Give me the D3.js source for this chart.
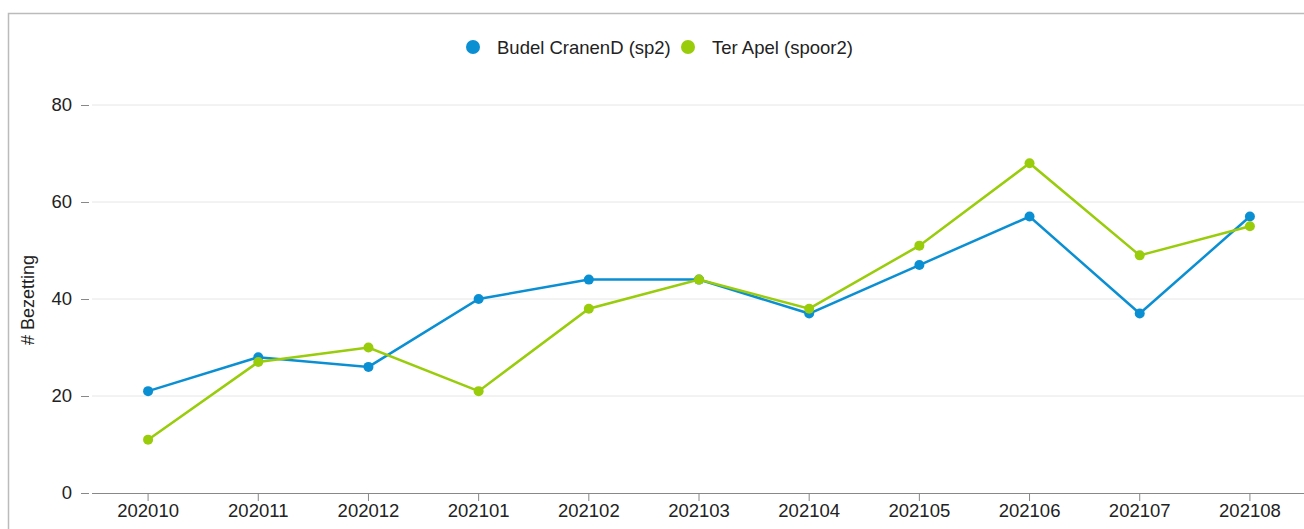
<!DOCTYPE html>
<html>
<head>
<meta charset="utf-8">
<script src="https://cdn.jsdelivr.net/npm/d3@7"></script>
<style>
  body { margin: 0; background: #fff; }
  svg { font-family: "Liberation Sans", Arial, sans-serif; }
</style>
</head>
<body>
<div id="chart"></div>
<script>
// Data
const months = ["202010", "202011", "202012", "202101", "202102", "202103", "202104", "202105", "202106", "202107", "202108"];
const budel = [21, 28, 26, 40, 44, 44, 37, 47, 57, 37, 57];
const terApel = [11, 27, 30, 21, 38, 44, 38, 51, 68, 49, 55];
const seriesNames = ["Budel CranenD (sp2)", "Ter Apel (spoor2)"];
const yTicks = [0, 20, 40, 60, 80];

const width = 1304, height = 529;
const colors = ["#0b8fd3", "#99cc0a"];
const fontSize = 18.5;

const svg = d3.select("#chart").append("svg")
  .attr("width", width)
  .attr("height", height);

// frame
svg.append("path")
  .attr("d", "M8.5," + height + "V13.5H" + width)
  .attr("fill", "none")
  .attr("stroke", "#bbbbbb")
  .attr("stroke-width", 1.5);

const x = d3.scaleBand().domain(months).range([93, 1305]);
const y = d3.scaleLinear().domain([0, 80]).range([493, 105]);

// grid
svg.append("g").selectAll("line")
  .data(yTicks.filter(d => d > 0))
  .join("line")
  .attr("x1", 92).attr("x2", width)
  .attr("y1", d => y(d)).attr("y2", d => y(d))
  .attr("stroke", "#e6e6e6");

// y axis
const yAxis = svg.append("g")
  .attr("transform", "translate(89,0)")
  .call(d3.axisLeft(y).tickValues(yTicks).tickSize(8).tickPadding(9));
yAxis.select(".domain").remove();
yAxis.selectAll(".tick line").attr("stroke", "#888");
yAxis.selectAll("text").attr("font-size", fontSize).attr("fill", "#222")
  .attr("font-family", "Liberation Sans, Arial, sans-serif");

// x axis
const xAxis = svg.append("g")
  .attr("transform", "translate(0,493)")
  .call(d3.axisBottom(x).tickSize(8).tickPadding(3).tickSizeOuter(0));
xAxis.select(".domain").attr("stroke", "#888").attr("d", "M92,0.5H" + width);
xAxis.selectAll(".tick line").attr("stroke", "#888");
xAxis.selectAll("text").attr("font-size", fontSize).attr("fill", "#222")
  .attr("font-family", "Liberation Sans, Arial, sans-serif");

// y title
svg.append("text")
  .attr("transform", "translate(34,300) rotate(-90)")
  .attr("text-anchor", "middle")
  .attr("font-size", 18)
  .attr("fill", "#222")
  .text("# Bezetting");

// series
const line = d3.line()
  .x((d, i) => x(months[i]) + x.bandwidth() / 2)
  .y(d => y(d));

[budel, terApel].forEach((vals, s) => {
  svg.append("path")
    .datum(vals)
    .attr("d", line)
    .attr("fill", "none")
    .attr("stroke", colors[s])
    .attr("stroke-width", 2.5);
  svg.append("g").selectAll("circle")
    .data(vals)
    .join("circle")
    .attr("cx", (d, i) => x(months[i]) + x.bandwidth() / 2)
    .attr("cy", d => y(d))
    .attr("r", 5)
    .attr("fill", colors[s]);
});

// legend
const legendX = [473, 688];
const legend = svg.append("g");
seriesNames.forEach((name, i) => {
  legend.append("circle")
    .attr("cx", legendX[i]).attr("cy", 47).attr("r", 7)
    .attr("fill", colors[i]);
  legend.append("text")
    .attr("x", legendX[i] + 24).attr("y", 54)
    .attr("font-size", fontSize)
    .attr("fill", "#222")
    .text(name);
});
</script>
</body>
</html>
